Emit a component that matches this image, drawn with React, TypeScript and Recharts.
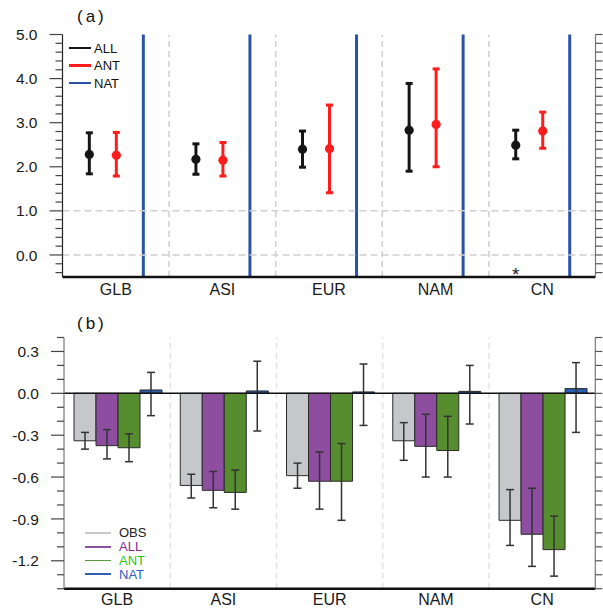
import React from 'react';
import {ComposedChart, Bar, XAxis, YAxis, ErrorBar, ReferenceLine} from 'recharts';

const FONT = '"Liberation Sans", Arial, Helvetica, sans-serif';

const regions = ['GLB', 'ASI', 'EUR', 'NAM', 'CN'];

// (a) scaling factors: best estimate with 5-95% range
const allBest = [2.28, 2.17, 2.40, 2.83, 2.49];
const allLow = [1.84, 1.83, 1.99, 1.90, 2.18];
const allHigh = [2.77, 2.52, 2.81, 3.89, 2.83];
const antBest = [2.26, 2.15, 2.41, 2.96, 2.81];
const antLow = [1.79, 1.79, 1.41, 2.00, 2.42];
const antHigh = [2.78, 2.55, 3.40, 4.22, 3.24];
// NAT range is unbounded, runs off both ends of the axis
const natLow = [-6, -6, -6, -6, -6];
const natHigh = [12, 12, 12, 12, 12];
const sigMark = ['', '', '', '', '*'];

// (b) trends with 5-95% range
const obsTrend = [-0.34, -0.66, -0.59, -0.34, -0.91];
const obsLow = [-0.40, -0.75, -0.68, -0.48, -1.09];
const obsHigh = [-0.28, -0.58, -0.50, -0.21, -0.69];
const allTrend = [-0.375, -0.695, -0.63, -0.38, -1.01];
const allTrendLow = [-0.47, -0.82, -0.83, -0.60, -1.24];
const allTrendHigh = [-0.26, -0.56, -0.42, -0.15, -0.68];
const antTrend = [-0.39, -0.71, -0.63, -0.41, -1.12];
const antTrendLow = [-0.49, -0.83, -0.91, -0.60, -1.31];
const antTrendHigh = [-0.29, -0.55, -0.36, -0.165, -0.88];
const natTrend = [0.024, 0.017, 0.01, 0.014, 0.034];
const natTrendLow = [-0.16, -0.27, -0.23, -0.22, -0.28];
const natTrendHigh = [0.15, 0.23, 0.21, 0.20, 0.22];

const ticksA = Array.from({length: 28}, (_, i) => Math.round((-0.4 + i * 0.2) * 10) / 10);
const ticksB = Array.from({length: 19}, (_, i) => Math.round((-1.4 + i * 0.1) * 10) / 10);
// dashed separators sit at the left edge of every region but the first
const separators = regions.slice(1);

const BLACK = '#151515';
const RED = '#ff1c1c';
const BLUE = '#2a52a8';

const err = (v: number, lo: number, hi: number) => [v - lo, hi - v];

const dataA = regions.map((name, i) => ({
    name,
    all: allBest[i],
    allErr: err(allBest[i], allLow[i], allHigh[i]),
    ant: antBest[i],
    antErr: err(antBest[i], antLow[i], antHigh[i]),
    nat: [natLow[i], natHigh[i]],
    sig: sigMark[i],
}));

const dataB = regions.map((name, i) => ({
    name,
    obs: obsTrend[i],
    obsErr: err(obsTrend[i], obsLow[i], obsHigh[i]),
    all: allTrend[i],
    allErr: err(allTrend[i], allTrendLow[i], allTrendHigh[i]),
    ant: antTrend[i],
    antErr: err(antTrend[i], antTrendLow[i], antTrendHigh[i]),
    nat: natTrend[i],
    natErr: err(natTrend[i], natTrendLow[i], natTrendHigh[i]),
}));

const leftTick = (isMajor: (v: number) => boolean, color: string) => (props: any) => {
    const {x, y, payload} = props;
    const v = payload.value;
    const big = isMajor(v);
    return (
        <g>
            <line x1={x - (big ? 13 : 7)} x2={x} y1={y} y2={y} stroke={color} strokeWidth={1.2}/>
            {big && (
                <text x={x - 25} y={y} dy="0.36em" textAnchor="end" fontSize={15.5} fill="#1a1a1a"
                      fontFamily={FONT}>{v.toFixed(1)}</text>
            )}
        </g>
    );
};

const rightTick = (props: any) => (
    <line x1={props.x} x2={props.x + 7} y1={props.y} y2={props.y} stroke="#555" strokeWidth={1.2}/>
);

// dot for the best estimate; the significance star only goes under ALL
const dotShape = (color: string, withSig: boolean) => (props: any) => {
    const {x, y, width, background, payload} = props;
    const cx = x + width / 2;
    const bottom = background ? background.y + background.height : y;
    return (
        <g>
            <circle cx={cx} cy={y} r={4.6} fill={color}/>
            {withSig && payload && payload.sig ? (
                <text x={cx} y={bottom + 4} textAnchor="middle" fontSize={19} fill="#222"
                      fontFamily={FONT}>{payload.sig}</text>
            ) : null}
        </g>
    );
};

const natShape = (props: any) => {
    const {x, y, width, height} = props;
    return <line x1={x + width / 2} x2={x + width / 2} y1={y} y2={y + height} stroke={BLUE} strokeWidth={3}/>;
};

const legendA = [['ALL', BLACK], ['ANT', RED], ['NAT', BLUE]];
const legendB = [
    ['OBS', '#c8c8c8', '#222'],
    ['ALL', '#9050a0', '#8b2a8b'],
    ['ANT', '#5a9a3a', '#1ec81e'],
    ['NAT', '#3060b0', '#2f5fc0'],
];

const xTick = {fill: '#1a1a1a', fontSize: 16, fontFamily: FONT};

const App = () => {
    return (
        <div style={{position: 'absolute', left: 0, top: 0, width: 603, height: 611, background: '#fff'}}>
            <div style={{position: 'absolute', left: 0, top: 0}}>
                <ComposedChart width={603} height={300} data={dataA} barCategoryGap="12.5%" barGap={0}
                               margin={{top: 34.5, right: 0, bottom: 0, left: 0}}>
                    <XAxis xAxisId="cat" dataKey="name" height={23} tickLine={false} tickSize={0} tickMargin={7}
                           tick={xTick} axisLine={{stroke: '#111', strokeWidth: 2.5}}/>
                    <XAxis xAxisId="top" dataKey="name" orientation="top" height={0} tick={false}
                           tickLine={false} axisLine={{stroke: '#222', strokeWidth: 1.2}}/>
                    <YAxis yAxisId="l" domain={[-0.5, 5]} allowDataOverflow ticks={ticksA} interval={0} width={62.5}
                           tickSize={0} tickMargin={0} tickLine={false} axisLine={{stroke: '#222', strokeWidth: 1.2}}
                           tick={leftTick(v => Math.abs(v - Math.round(v)) < 1e-6, '#444')}/>
                    <YAxis yAxisId="r" orientation="right" domain={[-0.5, 5]} allowDataOverflow ticks={ticksA}
                           interval={0} width={7.5} tickSize={0} tickMargin={0} tickLine={false}
                           axisLine={{stroke: '#777', strokeWidth: 1.2}} tick={rightTick}/>
                    {separators.map(s => (
                        <ReferenceLine key={s} xAxisId="cat" yAxisId="l" x={s} position="start" stroke="#cfcfcf"
                                       strokeWidth={1.5} strokeDasharray="6 4"/>
                    ))}
                    <ReferenceLine xAxisId="cat" yAxisId="l" y={0} stroke="#d0d0d0" strokeWidth={1.5}
                                   strokeDasharray="7 4"/>
                    <ReferenceLine xAxisId="cat" yAxisId="l" y={1} stroke="#d0d0d0" strokeWidth={1.5}
                                   strokeDasharray="7 4"/>
                    <Bar xAxisId="cat" yAxisId="l" dataKey="all" shape={dotShape(BLACK, true)}
                         isAnimationActive={false}>
                        <ErrorBar dataKey="allErr" direction="y" width={3.5} stroke={BLACK} strokeWidth={3}/>
                    </Bar>
                    <Bar xAxisId="cat" yAxisId="l" dataKey="ant" shape={dotShape(RED, false)}
                         isAnimationActive={false}>
                        <ErrorBar dataKey="antErr" direction="y" width={3.5} stroke={RED} strokeWidth={3}/>
                    </Bar>
                    <Bar xAxisId="cat" yAxisId="l" dataKey="nat" shape={natShape} isAnimationActive={false}/>
                </ComposedChart>
            </div>
            <div style={{position: 'absolute', left: 0, top: 300}}>
                <ComposedChart width={603} height={311} data={dataB} barCategoryGap={10} barGap={0}
                               margin={{top: 37.5, right: 0, bottom: 0, left: 0}}>
                    <XAxis xAxisId="cat" dataKey="name" height={22.3} tickLine={false} tickSize={0} tickMargin={5}
                           tick={xTick} axisLine={{stroke: '#111', strokeWidth: 2.5}}/>
                    <XAxis xAxisId="top" dataKey="name" orientation="top" height={0} tick={false}
                           tickLine={false} axisLine={{stroke: '#777', strokeWidth: 1.2}}/>
                    <YAxis yAxisId="l" domain={[-1.4, 0.4]} allowDataOverflow ticks={ticksB} interval={0} width={64}
                           tickSize={0} tickMargin={0} tickLine={false} axisLine={{stroke: '#777', strokeWidth: 1.2}}
                           tick={leftTick(v => Math.abs(v / 0.3 - Math.round(v / 0.3)) < 1e-6, '#444')}/>
                    <YAxis yAxisId="r" orientation="right" domain={[-1.4, 0.4]} allowDataOverflow ticks={ticksB}
                           interval={0} width={7.7} tickSize={0} tickMargin={0} tickLine={false}
                           axisLine={{stroke: '#777', strokeWidth: 1.2}} tick={rightTick}/>
                    {separators.map(s => (
                        <ReferenceLine key={s} xAxisId="cat" yAxisId="l" x={s} position="start" stroke="#e2e2e2"
                                       strokeWidth={1.5} strokeDasharray="6 4"/>
                    ))}
                    <Bar xAxisId="cat" yAxisId="l" dataKey="obs" fill="#c6c7ca" stroke="#2a2a2a" strokeWidth={1}
                         isAnimationActive={false}>
                        <ErrorBar dataKey="obsErr" direction="y" width={4} stroke="#333" strokeWidth={1.5}/>
                    </Bar>
                    <Bar xAxisId="cat" yAxisId="l" dataKey="all" fill="#8d4e9f" stroke="#2a2a2a" strokeWidth={1}
                         isAnimationActive={false}>
                        <ErrorBar dataKey="allErr" direction="y" width={4} stroke="#333" strokeWidth={1.5}/>
                    </Bar>
                    <Bar xAxisId="cat" yAxisId="l" dataKey="ant" fill="#568d2f" stroke="#2a2a2a" strokeWidth={1}
                         isAnimationActive={false}>
                        <ErrorBar dataKey="antErr" direction="y" width={4} stroke="#333" strokeWidth={1.5}/>
                    </Bar>
                    <Bar xAxisId="cat" yAxisId="l" dataKey="nat" fill="#2c5eae" stroke="#2a2a2a" strokeWidth={1}
                         isAnimationActive={false}>
                        <ErrorBar dataKey="natErr" direction="y" width={4} stroke="#333" strokeWidth={1.5}/>
                    </Bar>
                    <ReferenceLine xAxisId="cat" yAxisId="l" y={0} stroke="#111" strokeWidth={1.5}/>
                </ComposedChart>
            </div>
            <div style={{position: 'absolute', left: 77, top: 8, fontFamily: FONT, fontSize: 17, lineHeight: '17px',
                letterSpacing: 3, color: '#111'}}>(a)
            </div>
            <div style={{position: 'absolute', left: 77, top: 314.5, fontFamily: FONT, fontSize: 17,
                lineHeight: '17px', letterSpacing: 3, color: '#111'}}>(b)
            </div>
            <div style={{position: 'absolute', left: 69, top: 39.25, fontFamily: FONT, fontSize: 13}}>
                {legendA.map(([label, color]) => (
                    <div key={label} style={{display: 'flex', alignItems: 'center', height: 17.5}}>
                        <span style={{width: 22, height: 2.5, background: color, marginRight: 3}}/>
                        <span style={{color: '#111'}}>{label}</span>
                    </div>
                ))}
            </div>
            <div style={{position: 'absolute', left: 85, top: 526, fontFamily: FONT, fontSize: 13}}>
                {legendB.map(([label, line, text]) => (
                    <div key={label} style={{display: 'flex', alignItems: 'center', height: 13.8}}>
                        <span style={{width: 26, height: 1.8, background: line, marginRight: 8}}/>
                        <span style={{color: text}}>{label}</span>
                    </div>
                ))}
            </div>
        </div>
    );
};

export default App;
